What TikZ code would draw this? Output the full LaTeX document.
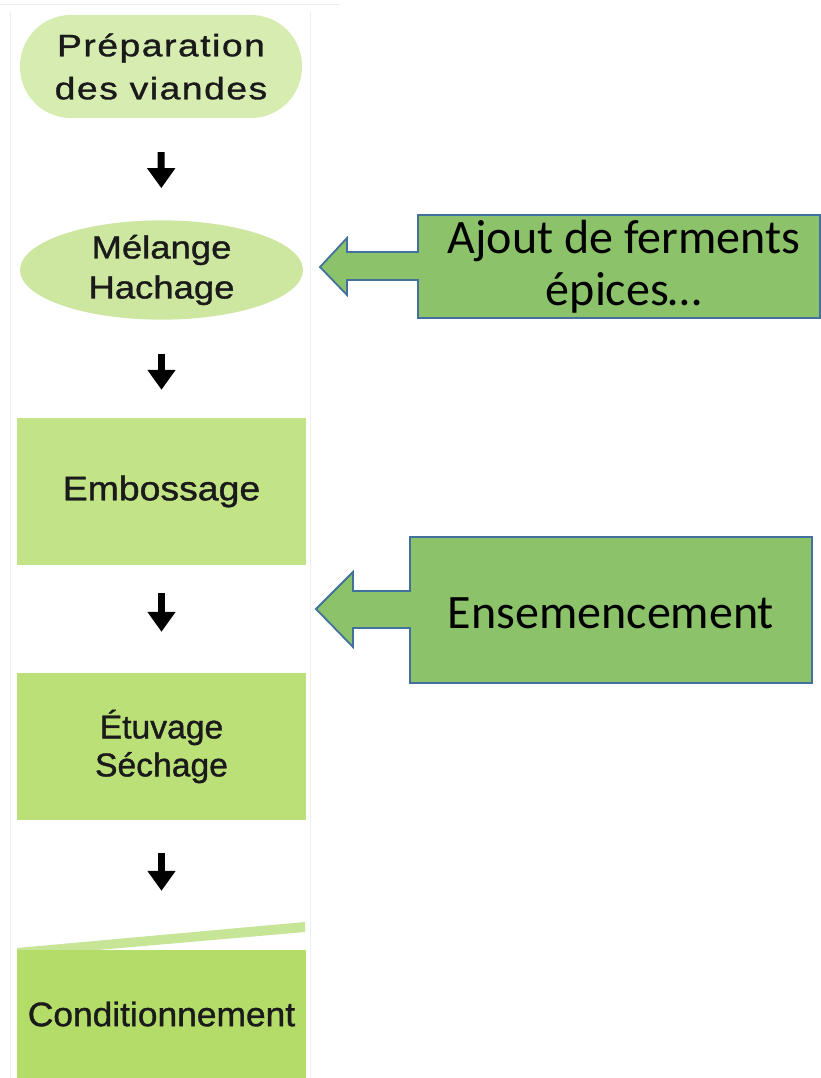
\documentclass[tikz,border=0pt]{standalone}
\usepackage{fontspec}
\usetikzlibrary{shapes.geometric,arrows.meta}
\newfontfamily\boxfont{Liberation Sans}[FakeBold=1.1]
\newfontfamily\callfont{Carlito}
\definecolor{cA}{HTML}{D6ECB0}
\definecolor{cB}{HTML}{CDE7A0}
\definecolor{cC}{HTML}{C2E386}
\definecolor{cD}{HTML}{BBE078}
\definecolor{cE}{HTML}{B3DC68}
\definecolor{cStripe}{HTML}{C6E596}
\definecolor{callfill}{HTML}{8CC26A}
\definecolor{callborder}{HTML}{41719C}
\definecolor{txt}{HTML}{1A1A1A}
\definecolor{frame}{HTML}{EEEEEE}
\tikzset{
  stepbox/.style={rectangle, inner sep=0pt, text=txt, align=center},
  dnarrow/.style={line width=7pt, black, -{Triangle[width=27pt,length=20pt]}},
  callshape/.style={fill=callfill, draw=callborder, line width=1.8pt, line join=miter},
  calltext/.style={inner sep=0pt, text=black, align=center}
}
\begin{document}
\begin{tikzpicture}[x=1pt,y=-1pt]
\useasboundingbox (0,0) rectangle (821,1078);
\fill[white] (0,0) rectangle (821,1078);
% faint frame of the left image
\draw[frame, line width=1pt] (0,5) -- (340,5);
\draw[frame, line width=1pt] (10,12) -- (10,1078);
\draw[frame, line width=1pt] (310,12) -- (310,1078);

% steps
\node[stepbox, fill=cA, minimum width=282pt, minimum height=103pt, rounded corners=51pt,
  font={\boxfont\fontsize{31}{43}\selectfont\addfontfeature{FakeStretch=1.2,LetterSpace=5}}]
  (n1) at (161,66.5) {Préparation\\des viandes};
\node[stepbox, ellipse, fill=cB, minimum width=283pt, minimum height=96pt,
  font={\boxfont\fontsize{32}{40}\selectfont\addfontfeature{FakeStretch=1.14}}]
  (n2) at (161.5,270) {Mélange\\Hachage};
\node[stepbox, fill=cC, minimum width=289pt, minimum height=147pt,
  font={\boxfont\fontsize{34}{40}\selectfont\addfontfeature{FakeStretch=1.1}}]
  (n3) at (161.5,491.5) {Embossage};
\node[stepbox, fill=cD, minimum width=289pt, minimum height=147pt,
  font={\boxfont\fontsize{33}{38}\selectfont\addfontfeature{FakeStretch=1.02}}]
  (n4) at (161.5,746.5) {Étuvage\\Séchage};
\fill[cStripe] (17,948) -- (305,922) -- (305,932) -- (17,957) -- cycle;
\node[stepbox, fill=cE, minimum width=289pt, minimum height=128pt,
  font={\boxfont\fontsize{34}{40}\selectfont\addfontfeature{FakeStretch=1.04}}]
  (n5) at (161.5,1014) {Conditionnement};

% down arrows
\draw[dnarrow, shorten <=34pt, shorten >=32pt] (n1.south) -- (n2.north);
\draw[dnarrow, shorten <=34pt, shorten >=28pt] (n2.south) -- (n3.north);
\draw[dnarrow, shorten <=28pt, shorten >=41pt] (n3.south) -- (n4.north);
\draw[dnarrow, shorten <=33pt, shorten >=59pt] (n4.south) -- (n5.north);

% callout 1
\coordinate (t1) at (320,267);
\draw[callshape] (418,215) -- (820,215) -- (820,318) -- (418,318) -- (418,280)
  -- (347,280) -- (347,295) -- (t1) -- (347,238) -- (347,252) -- (418,252) -- cycle;
\node[calltext, font={\callfont\fontsize{48}{52}\selectfont}] (c1) at (624,267)
  {Ajout de ferments\\épices…\hspace{22pt}};

% callout 2
\coordinate (t2) at (316,609);
\draw[callshape] (410,537) -- (812,537) -- (812,683) -- (410,683) -- (410,628)
  -- (353,628) -- (353,647) -- (t2) -- (353,572) -- (353,591) -- (410,591) -- cycle;
\node[calltext, font={\callfont\fontsize{48}{52}\selectfont}] (c2) at (611,613)
  {Ensemencement};
\end{tikzpicture}
\end{document}
